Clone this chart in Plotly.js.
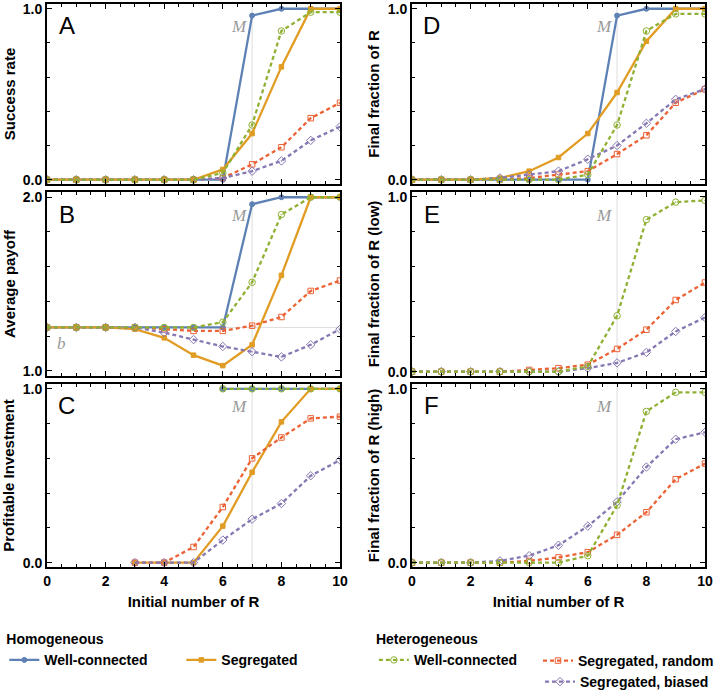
<!DOCTYPE html>
<html>
<head>
<meta charset="utf-8">
<script src="https://cdn.plot.ly/plotly-3.0.1.min.js"></script>
<style>
  html, body { margin: 0; padding: 0; background: #fff; }
  #chart { width: 719px; height: 698px; }
</style>
</head>
<body>
<div id="chart"></div>
<script>
// x values: initial number of R
const initialR = [0, 1, 2, 3, 4, 5, 6, 7, 8, 9, 10];
const investR = [3, 4, 5, 6, 7, 8, 9, 10];
const investRWell = [6, 7, 8, 9, 10];

// A - success rate
const successBlue = [0, 0, 0, 0, 0, 0, 0, 0.96, 1, 1, 1];
const successOrange = [0, 0, 0, 0, 0, 0, 0.06, 0.27, 0.66, 1, 1];
const successGreen = [0, 0, 0, 0, 0, 0, 0.04, 0.32, 0.87, 0.98, 0.98];
const successRed = [0, 0, 0, 0, 0, 0, 0.01, 0.09, 0.19, 0.36, 0.45];
const successPurple = [0, 0, 0, 0, 0, 0, 0.01, 0.05, 0.11, 0.23, 0.31];

// B - average payoff
const payoffBlue = [1.25, 1.25, 1.25, 1.25, 1.25, 1.25, 1.25, 1.96, 2, 2, 2];
const payoffOrange = [1.25, 1.25, 1.25, 1.24, 1.19, 1.09, 1.03, 1.15, 1.55, 2, 2];
const payoffGreen = [1.25, 1.25, 1.25, 1.25, 1.25, 1.25, 1.28, 1.51, 1.9, 2, 2];
const payoffRed = [1.25, 1.25, 1.25, 1.25, 1.24, 1.23, 1.23, 1.26, 1.31, 1.46, 1.52];
const payoffPurple = [1.25, 1.25, 1.25, 1.25, 1.22, 1.18, 1.14, 1.11, 1.08, 1.15, 1.24];

// C - profitable investment
const investBlue = [1, 1, 1, 1, 1];
const investGreen = [1, 1, 1, 1, 1];
const investOrange = [0, 0, 0, 0.21, 0.52, 0.81, 1, 1];
const investRed = [0, 0, 0.09, 0.32, 0.6, 0.72, 0.83, 0.84];
const investPurple = [0, 0, 0, 0.13, 0.25, 0.34, 0.5, 0.59];

// D - final fraction of R
const fractionBlue = [0, 0, 0, 0, 0, 0, 0, 0.96, 1, 1, 1];
const fractionOrange = [0, 0, 0, 0.01, 0.05, 0.13, 0.27, 0.51, 0.81, 1, 1];
const fractionGreen = [0, 0, 0, 0, 0, 0, 0.03, 0.32, 0.87, 0.97, 0.97];
const fractionRed = [0, 0, 0, 0, 0.01, 0.03, 0.05, 0.15, 0.26, 0.45, 0.53];
const fractionPurple = [0, 0, 0, 0.01, 0.03, 0.05, 0.12, 0.2, 0.33, 0.47, 0.53];

// E - final fraction of R (low)
const lowGreen = [0, 0, 0, 0, 0, 0, 0.03, 0.32, 0.87, 0.97, 0.98];
const lowRed = [0, 0, 0, 0, 0.01, 0.02, 0.04, 0.13, 0.24, 0.41, 0.51];
const lowPurple = [0, 0, 0, 0, 0, 0, 0.02, 0.05, 0.11, 0.23, 0.31];

// F - final fraction of R (high)
const highGreen = [0, 0, 0, 0, 0, 0, 0.04, 0.33, 0.87, 0.98, 0.98];
const highRed = [0, 0, 0, 0, 0.01, 0.03, 0.06, 0.16, 0.29, 0.48, 0.57];
const highPurple = [0, 0, 0, 0.01, 0.04, 0.1, 0.21, 0.35, 0.55, 0.71, 0.75];

const panelLetters = ['A', 'B', 'C', 'D', 'E', 'F'];
const yTitles = ['Success rate', 'Average payoff', 'Profitable Investment',
  'Final fraction of R', 'Final fraction of R (low)', 'Final fraction of R (high)'];
const xTitle = 'Initial number of R';
const thresholdM = 7;
const payoffB = 1.25;

// Mathematica-like default colours
const series = {
  blue:   { name: 'Well-connected', color: '#5E81B5', legend: 'legend', rank: 1, dash: 'solid', symbol: 'circle', size: 5 },
  orange: { name: 'Segregated', color: '#E19C24', legend: 'legend', rank: 2, dash: 'solid', symbol: 'square', size: 4.5 },
  green:  { name: 'Well-connected', color: '#8FB032', legend: 'legend2', rank: 3, dash: '4px,3px', symbol: 'circle-open-dot', size: 6.5 },
  red:    { name: 'Segregated, random', color: '#EB6235', legend: 'legend4', rank: 4, dash: '4px,3px', symbol: 'square-open', size: 5.5 },
  purple: { name: 'Segregated, biased', color: '#8778B3', legend: 'legend3', rank: 5, dash: '4px,3px', symbol: 'diamond-open-dot', size: 6.5 }
};

const FONT = 'Liberation Sans, Arial, sans-serif';
const SERIF = 'Liberation Serif, Times New Roman, serif';

function line(key, x, y, axisIdx, showlegend) {
  const s = series[key];
  const suffix = axisIdx === 1 ? '' : String(axisIdx);
  return {
    type: 'scatter', mode: 'lines+markers', x: x, y: y,
    xaxis: 'x' + suffix, yaxis: 'y' + suffix,
    name: s.name, legend: s.legend, legendrank: s.rank, showlegend: showlegend,
    line: { color: s.color, width: 2.3, dash: s.dash },
    marker: { color: s.color, symbol: s.symbol, size: s.size, line: { color: s.color, width: 1 } },
    hoverinfo: 'x+y'
  };
}

const traces = [
  // A
  line('blue', initialR, successBlue, 1, true),
  line('orange', initialR, successOrange, 1, true),
  line('red', initialR, successRed, 1, true),
  line('purple', initialR, successPurple, 1, true),
  line('green', initialR, successGreen, 1, true),
  // B
  line('blue', initialR, payoffBlue, 2, false),
  line('orange', initialR, payoffOrange, 2, false),
  line('red', initialR, payoffRed, 2, false),
  line('purple', initialR, payoffPurple, 2, false),
  line('green', initialR, payoffGreen, 2, false),
  // C
  line('blue', investRWell, investBlue, 3, false),
  line('orange', investR, investOrange, 3, false),
  line('red', investR, investRed, 3, false),
  line('purple', investR, investPurple, 3, false),
  line('green', investRWell, investGreen, 3, false),
  // D
  line('blue', initialR, fractionBlue, 4, false),
  line('orange', initialR, fractionOrange, 4, false),
  line('red', initialR, fractionRed, 4, false),
  line('purple', initialR, fractionPurple, 4, false),
  line('green', initialR, fractionGreen, 4, false),
  // E
  line('red', initialR, lowRed, 5, false),
  line('purple', initialR, lowPurple, 5, false),
  line('green', initialR, lowGreen, 5, false),
  // F
  line('red', initialR, highRed, 6, false),
  line('purple', initialR, highPurple, 6, false),
  line('green', initialR, highGreen, 6, false)
];

const colDomains = [[0.0654, 0.4729], [0.573, 0.9805]];
const rowDomains = [[0.7364, 0.9943], [0.4613, 0.7249], [0.1877, 0.4499]];

const tickFont = { family: FONT, size: 14, color: '#000', weight: 'bold' };
const titleFont = { family: FONT, size: 15, color: '#000', weight: 'bold' };

const layout = {
  width: 719, height: 698,
  margin: { l: 0, r: 0, t: 0, b: 0 },
  paper_bgcolor: '#fff', plot_bgcolor: '#fff',
  font: { family: FONT, color: '#000' },
  showlegend: true,
  annotations: [], shapes: []
};

for (let i = 0; i < 6; i++) {
  const col = i < 3 ? 0 : 1;
  const row = i % 3;
  const suffix = i === 0 ? '' : String(i + 1);
  const isPayoff = i === 1;
  const bottom = row === 2;
  const yRange = isPayoff ? [0.97, 2.03] : [-0.025, 1.028];

  layout['xaxis' + suffix] = {
    domain: colDomains[col], anchor: 'y' + suffix, range: [0, 10],
    showline: true, linecolor: '#000', linewidth: 2, mirror: 'allticks',
    ticks: 'inside', ticklen: 5, tickwidth: 1, tickcolor: '#000', dtick: 2, tick0: 0,
    minor: { dtick: 0.5, ticks: 'inside', ticklen: 3, tickcolor: '#000' },
    showgrid: false, zeroline: false, showticklabels: bottom,
    tickfont: tickFont,
    title: bottom ? { text: xTitle, font: titleFont, standoff: 9 } : { text: '' }
  };
  layout['yaxis' + suffix] = {
    domain: rowDomains[row], anchor: 'x' + suffix, range: yRange,
    showline: true, linecolor: '#000', linewidth: 2, mirror: 'allticks',
    ticks: 'inside', ticklen: 5, tickwidth: 1, tickcolor: '#000',
    tickvals: isPayoff ? [1, 2] : [0, 1], tickformat: '.1f',
    minor: { tickvals: isPayoff ? [1.2, 1.4, 1.6, 1.8] : [0.2, 0.4, 0.6, 0.8], ticks: 'inside', ticklen: 3, tickcolor: '#000' },
    showgrid: false, zeroline: false,
    tickfont: tickFont,
    title: { text: yTitles[i], font: titleFont, standoff: 4 }
  };

  const xr = 'x' + suffix;
  const yr = 'y' + suffix;
  // vertical reference line at M
  layout.shapes.push({
    type: 'line', layer: 'below', xref: xr, yref: yr + ' domain',
    x0: thresholdM, x1: thresholdM, y0: 0, y1: 1,
    line: { color: '#dddddd', width: 1 }
  });
  // panel letter
  layout.annotations.push({
    xref: xr + ' domain', yref: yr + ' domain', x: 0.067, y: 0.88,
    xanchor: 'center', yanchor: 'middle',
    text: panelLetters[i], showarrow: false,
    font: { family: FONT, size: 24, color: '#000' }
  });
  // M label
  layout.annotations.push({
    xref: xr, yref: yr + ' domain', x: 6.55, y: 0.875,
    xanchor: 'center', yanchor: 'middle',
    text: 'M', showarrow: false,
    font: { family: SERIF, size: 17, color: '#999', style: 'italic' }
  });
}

// b reference line in panel B
layout.shapes.push({
  type: 'line', layer: 'below', xref: 'x2 domain', yref: 'y2',
  x0: 0, x1: 1, y0: payoffB, y1: payoffB,
  line: { color: '#dddddd', width: 1 }
});
layout.annotations.push({
  xref: 'x2', yref: 'y2', x: 0.5, y: 1.16,
  xanchor: 'center', yanchor: 'middle',
  text: 'b', showarrow: false,
  font: { family: SERIF, size: 17, color: '#999', style: 'italic' }
});

// legends: one per block so the layout mirrors the original key
const legendFont = { family: FONT, size: 14, color: '#000', weight: 'bold' };
const legendBase = {
  orientation: 'h', xanchor: 'left', yanchor: 'top',
  bgcolor: 'rgba(0,0,0,0)', font: legendFont, traceorder: 'normal',
  itemclick: false, itemdoubleclick: false
};
layout.legend = Object.assign({}, legendBase, {
  x: 0.006, y: 0.103, entrywidth: 132, entrywidthmode: 'pixels',
  title: { text: 'Homogeneous', side: 'top', font: legendFont }
});
layout.legend2 = Object.assign({}, legendBase, {
  x: 0.52, y: 0.103,
  title: { text: 'Heterogeneous', side: 'top', font: legendFont }
});
layout.legend4 = Object.assign({}, legendBase, {
  x: 1, xanchor: 'right', y: 0.076
});
layout.legend3 = Object.assign({}, legendBase, {
  x: 0.751, y: 0, yanchor: 'bottom'
});

Plotly.newPlot('chart', traces, layout, { displayModeBar: false, staticPlot: true });
</script>
</body>
</html>
